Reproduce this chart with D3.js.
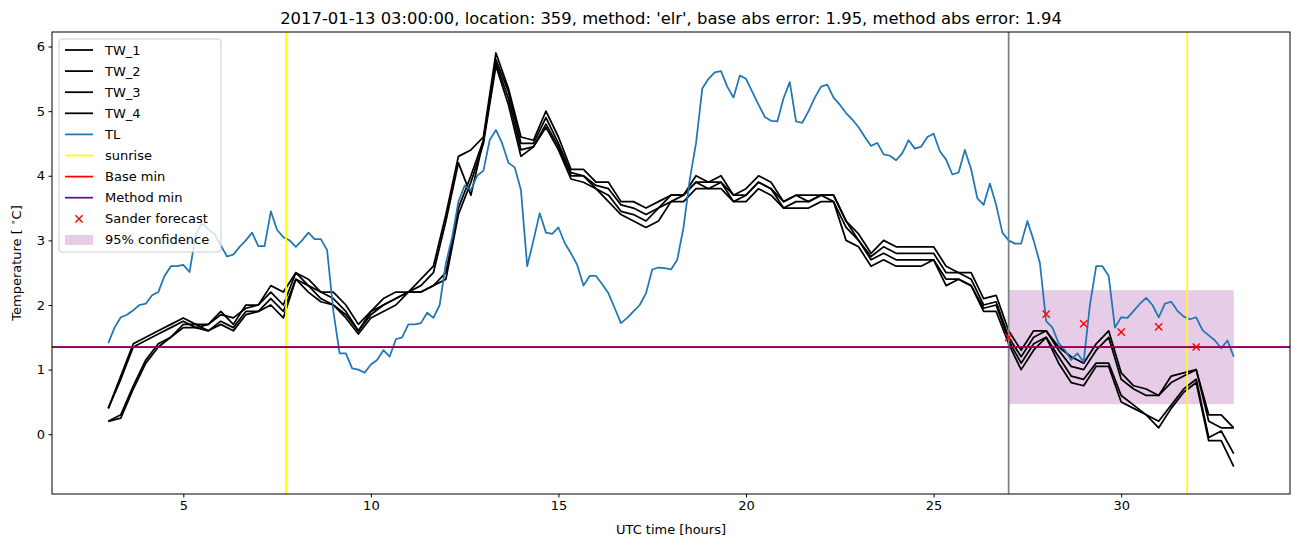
<!DOCTYPE html>
<html><head><meta charset="utf-8">
<script src="https://cdn.jsdelivr.net/npm/d3@7"></script>
<style>body{margin:0;background:#fff}svg{display:block;font-family:"DejaVu Sans",sans-serif}</style>
</head><body><svg id="c" width="1302" height="547"></svg>
<script>
const titleText = "2017-01-13 03:00:00, location: 359, method: 'elr', base abs error: 1.95, method abs error: 1.94";
const startHour = 3;
const tlStepHours = 1/6;
const twStepHours = 1/3;
const xTicks = [5,10,15,20,25,30];
const yTicks = [0,1,2,3,4,5,6];
const TL = [1.41,1.65,1.81,1.85,1.92,2.0,2.02,2.15,2.2,2.45,
2.6,2.6,2.62,2.51,3.1,3.27,3.17,3.1,2.92,2.75,
2.78,2.9,3.0,3.12,2.91,2.91,3.45,3.16,3.05,3.0,
2.9,3.0,3.12,3.02,3.02,2.85,1.9,1.25,1.25,1.02,
1.0,0.95,1.08,1.15,1.3,1.2,1.47,1.5,1.7,1.7,
1.72,1.88,1.8,2.0,2.65,3.05,3.6,3.85,3.78,4.0,
4.08,4.55,4.71,4.5,4.2,4.13,3.78,2.6,3.0,3.42,
3.12,3.1,3.2,2.96,2.8,2.62,2.3,2.45,2.45,2.32,
2.18,1.95,1.72,1.8,1.9,2.0,2.18,2.55,2.58,2.57,
2.55,2.7,3.2,3.94,4.5,5.35,5.5,5.6,5.62,5.38,
5.21,5.55,5.5,5.3,5.1,4.91,4.85,4.84,5.2,5.45,
4.84,4.82,5.0,5.21,5.38,5.41,5.21,5.1,4.97,4.87,
4.75,4.6,4.46,4.51,4.33,4.31,4.24,4.35,4.55,4.42,
4.45,4.6,4.65,4.38,4.25,4.02,4.05,4.4,4.1,3.65,
3.55,3.88,3.55,3.12,3.0,2.95,2.95,3.3,3.0,2.65,
1.75,1.65,1.41,1.3,1.15,1.25,1.12,2.0,2.6,2.6,
2.45,1.65,1.81,1.8,1.91,2.02,2.11,2.0,1.81,2.02,
2.05,1.91,1.82,1.78,1.81,1.61,1.53,1.45,1.33,1.45,
1.2];
const TW_1 = [0.4,0.9,1.4,1.5,1.6,1.7,1.8,1.7,1.7,1.9,
1.7,2.0,2.0,2.3,2.2,2.5,2.4,2.2,2.2,2.0,
1.7,1.9,2.1,2.2,2.2,2.4,2.6,3.4,4.3,4.4,
4.6,5.9,5.35,4.6,4.55,5.0,4.6,4.1,4.1,3.9,
3.9,3.6,3.6,3.5,3.6,3.7,3.7,4.0,3.9,4.0,
3.7,3.8,4.0,3.9,3.6,3.7,3.7,3.7,3.7,3.3,
3.1,2.8,3.0,2.9,2.9,2.9,2.9,2.6,2.5,2.5,
2.1,2.15,1.6,1.3,1.6,1.6,1.35,1.2,1.1,1.4,
1.6,0.95,0.75,0.7,0.6,0.9,0.95,1.0,0.3,0.3,
0.1];
const TW_2 = [0.4,0.85,1.35,1.45,1.55,1.65,1.75,1.65,1.7,1.85,
1.8,1.95,2.0,2.2,2.0,2.5,2.3,2.2,2.1,1.9,
1.6,1.9,2.0,2.1,2.2,2.3,2.5,3.3,4.2,3.7,
4.55,5.8,5.3,4.5,4.5,4.9,4.5,4.05,4.0,3.85,
3.8,3.55,3.5,3.4,3.5,3.7,3.7,3.9,3.9,3.9,
3.7,3.7,3.9,3.8,3.6,3.7,3.6,3.7,3.7,3.3,
3.0,2.75,2.9,2.8,2.8,2.8,2.8,2.5,2.5,2.4,
2.0,2.05,1.5,1.2,1.5,1.6,1.3,1.05,1.0,1.3,
1.5,0.85,0.7,0.6,0.6,0.8,0.9,1.0,0.2,0.1,
0.1];
const TW_3 = [0.2,0.3,0.75,1.15,1.4,1.5,1.7,1.7,1.6,1.75,
1.65,1.9,1.9,2.1,1.9,2.4,2.3,2.1,2.0,1.85,
1.6,1.85,2.0,2.1,2.2,2.2,2.3,2.5,3.5,4.0,
4.55,5.75,5.2,4.4,4.45,4.8,4.45,4.0,4.0,3.8,
3.7,3.45,3.4,3.3,3.5,3.6,3.7,3.9,3.8,3.9,
3.6,3.7,3.9,3.8,3.5,3.6,3.6,3.7,3.6,3.2,
3.0,2.7,2.8,2.7,2.7,2.7,2.7,2.4,2.4,2.3,
1.95,2.0,1.45,1.1,1.4,1.5,1.2,0.9,0.85,1.1,
1.1,0.6,0.45,0.3,0.2,0.45,0.7,0.85,-0.05,0.05,
-0.3];
const TW_4 = [0.2,0.25,0.7,1.1,1.35,1.5,1.65,1.65,1.6,1.7,
1.6,1.85,1.9,2.0,1.8,2.4,2.2,2.05,2.0,1.8,
1.55,1.8,1.9,2.0,2.2,2.2,2.3,2.4,3.4,3.9,
4.5,5.7,5.1,4.3,4.45,4.75,4.4,3.95,3.9,3.8,
3.6,3.4,3.3,3.2,3.3,3.6,3.6,3.8,3.8,3.8,
3.6,3.6,3.8,3.7,3.5,3.5,3.5,3.6,3.6,3.0,
2.9,2.6,2.7,2.6,2.6,2.6,2.7,2.3,2.4,2.3,
1.9,1.9,1.4,1.0,1.3,1.5,1.1,0.8,0.75,1.05,
1.05,0.5,0.4,0.3,0.1,0.4,0.65,0.8,-0.1,-0.1,
-0.5];
const sunriseHours = [7.74, 31.76];
const forecastStartHour = 27;
const baseMin = 1.35;
const methodMin = 1.35;
const sanderHours = [27,28,29,30,31,32];
const sanderValues = [1.50,1.86,1.71,1.58,1.66,1.35];
const confHours = [27,33];
const confLow = 0.465, confHigh = 2.23;
const legendLabels = ["TW_1","TW_2","TW_3","TW_4","TL","sunrise","Base min","Method min","Sander forecast","95% confidence"];

const svg = d3.select("#c");
const L=52, R=1290, T=32, B=494;
const x = d3.scaleLinear().domain([1.5,34.5]).range([L,R]);
const y = d3.scaleLinear().domain([-0.925,6.225]).range([B,T]);

svg.append("defs").append("clipPath").attr("id","clip").append("rect")
  .attr("x",L).attr("y",T).attr("width",R-L).attr("height",B-T);
const plot = svg.append("g").attr("clip-path","url(#clip)");

plot.append("rect").attr("x",x(confHours[0])).attr("y",y(confHigh))
  .attr("width",x(confHours[1])-x(confHours[0])).attr("height",y(confLow)-y(confHigh))
  .attr("fill","purple").attr("fill-opacity",0.2);

const LW = 1.75;
const twLine = d3.line().x((d,i)=>x(startHour+i*twStepHours)).y(d=>y(d));
[TW_1,TW_2,TW_3,TW_4].forEach(s=>{
  plot.append("path").attr("d",twLine(s)).attr("fill","none").attr("stroke","black")
    .attr("stroke-width",LW).attr("stroke-linejoin","round");
});
const tlLine = d3.line().x((d,i)=>x(startHour+i*tlStepHours)).y(d=>y(d));
plot.append("path").attr("d",tlLine(TL)).attr("fill","none").attr("stroke","#1f77b4")
  .attr("stroke-width",LW).attr("stroke-linejoin","round");

sunriseHours.forEach(h=>{
  plot.append("line").attr("x1",x(h)).attr("x2",x(h)).attr("y1",T).attr("y2",B)
    .attr("stroke","#ffff00").attr("stroke-width",LW);
});
plot.append("line").attr("x1",x(forecastStartHour)).attr("x2",x(forecastStartHour)).attr("y1",T).attr("y2",B)
  .attr("stroke","grey").attr("stroke-width",LW);
plot.append("line").attr("x1",L).attr("x2",R).attr("y1",y(baseMin)).attr("y2",y(baseMin))
  .attr("stroke","red").attr("stroke-width",LW);
plot.append("line").attr("x1",L).attr("x2",R).attr("y1",y(methodMin)).attr("y2",y(methodMin))
  .attr("stroke","purple").attr("stroke-width",LW);

const ms=3.6;
sanderHours.forEach((h,i)=>{
  const cx=x(h), cy=y(sanderValues[i]);
  plot.append("path").attr("d",`M${cx-ms},${cy-ms}L${cx+ms},${cy+ms}M${cx-ms},${cy+ms}L${cx+ms},${cy-ms}`)
    .attr("stroke","red").attr("stroke-width",1.4);
});

svg.append("rect").attr("x",L).attr("y",T).attr("width",R-L).attr("height",B-T)
  .attr("fill","none").attr("stroke","black").attr("stroke-width",1);

const xAxis = svg.append("g").attr("transform",`translate(0,${B})`)
  .call(d3.axisBottom(x).tickValues(xTicks).tickSize(3.5).tickPadding(3.5).tickFormat(d3.format("d")));
const yAxis = svg.append("g").attr("transform",`translate(${L},0)`)
  .call(d3.axisLeft(y).tickValues(yTicks).tickSize(3.5).tickPadding(3.5).tickFormat(d3.format("d")));
[xAxis,yAxis].forEach(a=>{
  a.select(".domain").remove();
  a.selectAll("text").attr("font-size",13).attr("font-family","DejaVu Sans").attr("fill","black");
  a.selectAll("line").attr("stroke","black").attr("stroke-width",1);
});

svg.append("text").attr("x",(L+R)/2).attr("y",24).attr("text-anchor","middle")
  .attr("font-size",16.4).text(titleText);
svg.append("text").attr("x",(L+R)/2).attr("y",534).attr("text-anchor","middle")
  .attr("font-size",13).text("UTC time [hours]");
const yl = svg.append("text").attr("transform",`translate(21,${(T+B)/2}) rotate(-90)`)
  .attr("text-anchor","middle").attr("font-size",13);
yl.append("tspan").text("Temperature [ ");
yl.append("tspan").attr("font-size",9).attr("dy",-5).text("∘");
yl.append("tspan").attr("dy",5).text("C]");

const lg = svg.append("g");
lg.append("rect").attr("x",59).attr("y",39).attr("width",162).attr("height",213).attr("rx",3)
  .attr("fill","white").attr("fill-opacity",0.8).attr("stroke","#cccccc").attr("stroke-width",1);
const legendColors = ["black","black","black","black","#1f77b4","#ffff00","red","purple","red","purple"];
legendLabels.forEach((lab,i)=>{
  const yy = 50 + i*21.1;
  if(i<8){
    lg.append("line").attr("x1",65).attr("x2",93).attr("y1",yy).attr("y2",yy)
      .attr("stroke",legendColors[i]).attr("stroke-width",LW);
  } else if(i===8){
    const cx=79;
    lg.append("path").attr("d",`M${cx-ms},${yy-ms}L${cx+ms},${yy+ms}M${cx-ms},${yy+ms}L${cx+ms},${yy-ms}`)
      .attr("stroke","red").attr("stroke-width",1.4);
  } else {
    lg.append("rect").attr("x",65).attr("y",yy-5).attr("width",28).attr("height",10)
      .attr("fill","purple").attr("fill-opacity",0.2);
  }
  lg.append("text").attr("x",105).attr("y",yy+4.5).attr("font-size",13).text(lab);
});
</script></body></html>
